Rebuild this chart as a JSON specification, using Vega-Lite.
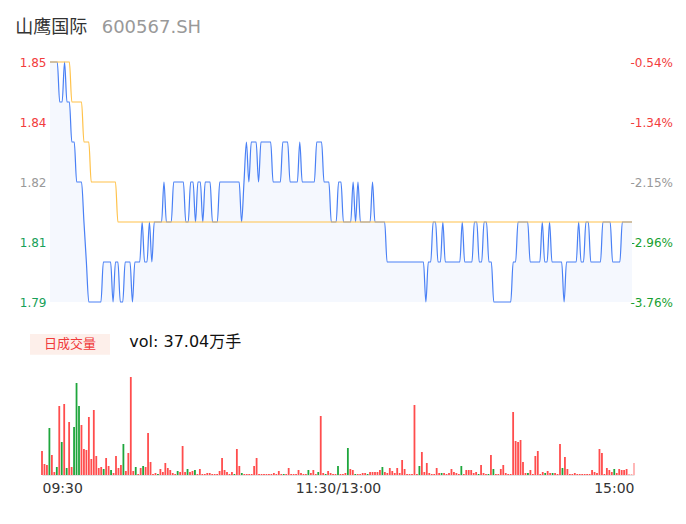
{
"$schema": "https://vega.github.io/schema/vega-lite/v6.json",
"padding": {"left": 15, "top": 19, "right": 0, "bottom": 0},
"background": "white",
"config": {"font": "DejaVu Sans, Noto Sans CJK SC", "view": {"stroke": null}, "axis": {"grid": false, "domain": false, "ticks": false}},
"bounds": "flush",
"spacing": 28,
"datasets": {"m": [
{"i":0,"p":1.85,"a":1.85,"v":6000,"d":"u"},
{"i":1,"p":1.85,"a":1.85,"v":2750,"d":"u"},
{"i":2,"p":1.85,"a":1.85,"v":2500,"d":"u"},
{"i":3,"p":1.85,"a":1.85,"v":11750,"d":"d"},
{"i":4,"p":1.84,"a":1.85,"v":5000,"d":"u"},
{"i":5,"p":1.84,"a":1.85,"v":750,"d":"u"},
{"i":6,"p":1.85,"a":1.85,"v":2000,"d":"d"},
{"i":7,"p":1.84,"a":1.85,"v":17250,"d":"u"},
{"i":8,"p":1.84,"a":1.85,"v":8250,"d":"d"},
{"i":9,"p":1.83,"a":1.84,"v":17750,"d":"u"},
{"i":10,"p":1.83,"a":1.84,"v":1750,"d":"d"},
{"i":11,"p":1.82,"a":1.84,"v":13250,"d":"u"},
{"i":12,"p":1.82,"a":1.84,"v":2000,"d":"u"},
{"i":13,"p":1.82,"a":1.84,"v":12000,"d":"d"},
{"i":14,"p":1.81,"a":1.83,"v":23000,"d":"d"},
{"i":15,"p":1.80,"a":1.83,"v":17250,"d":"d"},
{"i":16,"p":1.79,"a":1.83,"v":12500,"d":"u"},
{"i":17,"p":1.79,"a":1.82,"v":6500,"d":"u"},
{"i":18,"p":1.79,"a":1.82,"v":6250,"d":"u"},
{"i":19,"p":1.79,"a":1.82,"v":14500,"d":"u"},
{"i":20,"p":1.79,"a":1.82,"v":4000,"d":"u"},
{"i":21,"p":1.79,"a":1.82,"v":16250,"d":"u"},
{"i":22,"p":1.80,"a":1.82,"v":4750,"d":"u"},
{"i":23,"p":1.80,"a":1.82,"v":1750,"d":"u"},
{"i":24,"p":1.80,"a":1.82,"v":2000,"d":"u"},
{"i":25,"p":1.80,"a":1.82,"v":1500,"d":"d"},
{"i":26,"p":1.79,"a":1.82,"v":4250,"d":"u"},
{"i":27,"p":1.80,"a":1.82,"v":2250,"d":"u"},
{"i":28,"p":1.80,"a":1.81,"v":1250,"d":"d"},
{"i":29,"p":1.79,"a":1.81,"v":500,"d":"u"},
{"i":30,"p":1.79,"a":1.81,"v":4750,"d":"u"},
{"i":31,"p":1.80,"a":1.81,"v":1750,"d":"u"},
{"i":32,"p":1.80,"a":1.81,"v":2500,"d":"u"},
{"i":33,"p":1.80,"a":1.81,"v":7750,"d":"d"},
{"i":34,"p":1.79,"a":1.81,"v":1000,"d":"u"},
{"i":35,"p":1.80,"a":1.81,"v":5500,"d":"u"},
{"i":36,"p":1.80,"a":1.81,"v":24500,"d":"u"},
{"i":37,"p":1.80,"a":1.81,"v":1000,"d":"u"},
{"i":38,"p":1.81,"a":1.81,"v":2000,"d":"d"},
{"i":39,"p":1.80,"a":1.81,"v":250,"d":"u"},
{"i":40,"p":1.80,"a":1.81,"v":1750,"d":"u"},
{"i":41,"p":1.81,"a":1.81,"v":2250,"d":"d"},
{"i":42,"p":1.80,"a":1.81,"v":2000,"d":"u"},
{"i":43,"p":1.81,"a":1.81,"v":10500,"d":"u"},
{"i":44,"p":1.81,"a":1.81,"v":3250,"d":"u"},
{"i":45,"p":1.81,"a":1.81,"v":250,"d":"u"},
{"i":46,"p":1.81,"a":1.81,"v":500,"d":"u"},
{"i":47,"p":1.82,"a":1.81,"v":250,"d":"d"},
{"i":48,"p":1.81,"a":1.81,"v":1500,"d":"u"},
{"i":49,"p":1.81,"a":1.81,"v":750,"d":"u"},
{"i":50,"p":1.81,"a":1.81,"v":3000,"d":"u"},
{"i":51,"p":1.82,"a":1.81,"v":1750,"d":"u"},
{"i":52,"p":1.82,"a":1.81,"v":1250,"d":"u"},
{"i":53,"p":1.82,"a":1.81,"v":500,"d":"u"},
{"i":54,"p":1.82,"a":1.81,"v":250,"d":"u"},
{"i":55,"p":1.82,"a":1.81,"v":1000,"d":"d"},
{"i":56,"p":1.81,"a":1.81,"v":750,"d":"u"},
{"i":57,"p":1.81,"a":1.81,"v":7250,"d":"u"},
{"i":58,"p":1.82,"a":1.81,"v":750,"d":"u"},
{"i":59,"p":1.82,"a":1.81,"v":1500,"d":"d"},
{"i":60,"p":1.81,"a":1.81,"v":750,"d":"u"},
{"i":61,"p":1.82,"a":1.81,"v":1000,"d":"u"},
{"i":62,"p":1.82,"a":1.81,"v":1250,"d":"d"},
{"i":63,"p":1.81,"a":1.81,"v":250,"d":"u"},
{"i":64,"p":1.82,"a":1.81,"v":1500,"d":"u"},
{"i":65,"p":1.82,"a":1.81,"v":250,"d":"u"},
{"i":66,"p":1.82,"a":1.81,"v":250,"d":"u"},
{"i":67,"p":1.81,"a":1.81,"v":500,"d":"u"},
{"i":68,"p":1.81,"a":1.81,"v":500,"d":"u"},
{"i":69,"p":1.81,"a":1.81,"v":250,"d":"u"},
{"i":70,"p":1.82,"a":1.81,"v":250,"d":"u"},
{"i":71,"p":1.82,"a":1.81,"v":250,"d":"u"},
{"i":72,"p":1.82,"a":1.81,"v":1000,"d":"u"},
{"i":73,"p":1.82,"a":1.81,"v":4250,"d":"u"},
{"i":74,"p":1.82,"a":1.81,"v":1250,"d":"u"},
{"i":75,"p":1.82,"a":1.81,"v":750,"d":"u"},
{"i":76,"p":1.82,"a":1.81,"v":250,"d":"u"},
{"i":77,"p":1.82,"a":1.81,"v":750,"d":"u"},
{"i":78,"p":1.82,"a":1.81,"v":250,"d":"d"},
{"i":79,"p":1.81,"a":1.81,"v":6500,"d":"u"},
{"i":80,"p":1.82,"a":1.81,"v":2250,"d":"u"},
{"i":81,"p":1.83,"a":1.81,"v":500,"d":"d"},
{"i":82,"p":1.82,"a":1.81,"v":250,"d":"u"},
{"i":83,"p":1.83,"a":1.81,"v":250,"d":"u"},
{"i":84,"p":1.83,"a":1.81,"v":250,"d":"u"},
{"i":85,"p":1.83,"a":1.81,"v":250,"d":"u"},
{"i":86,"p":1.82,"a":1.81,"v":2250,"d":"u"},
{"i":87,"p":1.83,"a":1.81,"v":4250,"d":"u"},
{"i":88,"p":1.83,"a":1.81,"v":250,"d":"u"},
{"i":89,"p":1.83,"a":1.81,"v":250,"d":"u"},
{"i":90,"p":1.83,"a":1.81,"v":250,"d":"u"},
{"i":91,"p":1.83,"a":1.81,"v":250,"d":"u"},
{"i":92,"p":1.82,"a":1.81,"v":250,"d":"u"},
{"i":93,"p":1.82,"a":1.81,"v":250,"d":"u"},
{"i":94,"p":1.82,"a":1.81,"v":500,"d":"u"},
{"i":95,"p":1.82,"a":1.81,"v":250,"d":"u"},
{"i":96,"p":1.83,"a":1.81,"v":1000,"d":"u"},
{"i":97,"p":1.83,"a":1.81,"v":250,"d":"u"},
{"i":98,"p":1.83,"a":1.81,"v":250,"d":"d"},
{"i":99,"p":1.82,"a":1.81,"v":250,"d":"u"},
{"i":100,"p":1.82,"a":1.81,"v":1750,"d":"u"},
{"i":101,"p":1.82,"a":1.81,"v":250,"d":"u"},
{"i":102,"p":1.82,"a":1.81,"v":250,"d":"u"},
{"i":103,"p":1.83,"a":1.81,"v":250,"d":"u"},
{"i":104,"p":1.82,"a":1.81,"v":1250,"d":"u"},
{"i":105,"p":1.82,"a":1.81,"v":500,"d":"u"},
{"i":106,"p":1.82,"a":1.81,"v":250,"d":"u"},
{"i":107,"p":1.82,"a":1.81,"v":250,"d":"u"},
{"i":108,"p":1.82,"a":1.81,"v":1250,"d":"d"},
{"i":109,"p":1.82,"a":1.81,"v":500,"d":"u"},
{"i":110,"p":1.83,"a":1.81,"v":1250,"d":"u"},
{"i":111,"p":1.83,"a":1.81,"v":250,"d":"u"},
{"i":112,"p":1.83,"a":1.81,"v":750,"d":"d"},
{"i":113,"p":1.82,"a":1.81,"v":14750,"d":"u"},
{"i":114,"p":1.82,"a":1.81,"v":500,"d":"u"},
{"i":115,"p":1.82,"a":1.81,"v":250,"d":"d"},
{"i":116,"p":1.81,"a":1.81,"v":1000,"d":"u"},
{"i":117,"p":1.81,"a":1.81,"v":500,"d":"u"},
{"i":118,"p":1.81,"a":1.81,"v":250,"d":"u"},
{"i":119,"p":1.82,"a":1.81,"v":250,"d":"u"},
{"i":120,"p":1.82,"a":1.81,"v":2250,"d":"d"},
{"i":121,"p":1.81,"a":1.81,"v":250,"d":"u"},
{"i":122,"p":1.81,"a":1.81,"v":250,"d":"u"},
{"i":123,"p":1.81,"a":1.81,"v":500,"d":"u"},
{"i":124,"p":1.81,"a":1.81,"v":6750,"d":"d"},
{"i":125,"p":1.82,"a":1.81,"v":1500,"d":"u"},
{"i":126,"p":1.81,"a":1.81,"v":1250,"d":"u"},
{"i":127,"p":1.82,"a":1.81,"v":250,"d":"d"},
{"i":128,"p":1.81,"a":1.81,"v":250,"d":"u"},
{"i":129,"p":1.81,"a":1.81,"v":250,"d":"u"},
{"i":130,"p":1.81,"a":1.81,"v":500,"d":"u"},
{"i":131,"p":1.81,"a":1.81,"v":500,"d":"u"},
{"i":132,"p":1.81,"a":1.81,"v":250,"d":"d"},
{"i":133,"p":1.82,"a":1.81,"v":750,"d":"u"},
{"i":134,"p":1.81,"a":1.81,"v":750,"d":"u"},
{"i":135,"p":1.81,"a":1.81,"v":750,"d":"u"},
{"i":136,"p":1.81,"a":1.81,"v":750,"d":"u"},
{"i":137,"p":1.81,"a":1.81,"v":1250,"d":"u"},
{"i":138,"p":1.81,"a":1.81,"v":2000,"d":"d"},
{"i":139,"p":1.80,"a":1.81,"v":750,"d":"u"},
{"i":140,"p":1.80,"a":1.81,"v":500,"d":"u"},
{"i":141,"p":1.80,"a":1.81,"v":1750,"d":"u"},
{"i":142,"p":1.80,"a":1.81,"v":1000,"d":"u"},
{"i":143,"p":1.80,"a":1.81,"v":500,"d":"u"},
{"i":144,"p":1.80,"a":1.81,"v":1750,"d":"u"},
{"i":145,"p":1.80,"a":1.81,"v":500,"d":"u"},
{"i":146,"p":1.80,"a":1.81,"v":3750,"d":"u"},
{"i":147,"p":1.80,"a":1.81,"v":1500,"d":"u"},
{"i":148,"p":1.80,"a":1.81,"v":250,"d":"u"},
{"i":149,"p":1.80,"a":1.81,"v":250,"d":"u"},
{"i":150,"p":1.80,"a":1.81,"v":250,"d":"u"},
{"i":151,"p":1.80,"a":1.81,"v":17500,"d":"u"},
{"i":152,"p":1.80,"a":1.81,"v":250,"d":"u"},
{"i":153,"p":1.80,"a":1.81,"v":2250,"d":"d"},
{"i":154,"p":1.80,"a":1.81,"v":5750,"d":"u"},
{"i":155,"p":1.79,"a":1.81,"v":750,"d":"u"},
{"i":156,"p":1.80,"a":1.81,"v":3000,"d":"u"},
{"i":157,"p":1.80,"a":1.81,"v":500,"d":"u"},
{"i":158,"p":1.81,"a":1.81,"v":250,"d":"u"},
{"i":159,"p":1.81,"a":1.81,"v":250,"d":"u"},
{"i":160,"p":1.80,"a":1.81,"v":1750,"d":"u"},
{"i":161,"p":1.80,"a":1.81,"v":500,"d":"u"},
{"i":162,"p":1.81,"a":1.81,"v":500,"d":"d"},
{"i":163,"p":1.80,"a":1.81,"v":500,"d":"u"},
{"i":164,"p":1.80,"a":1.81,"v":250,"d":"u"},
{"i":165,"p":1.80,"a":1.81,"v":500,"d":"u"},
{"i":166,"p":1.80,"a":1.81,"v":1500,"d":"u"},
{"i":167,"p":1.80,"a":1.81,"v":750,"d":"u"},
{"i":168,"p":1.80,"a":1.81,"v":500,"d":"u"},
{"i":169,"p":1.80,"a":1.81,"v":250,"d":"u"},
{"i":170,"p":1.81,"a":1.81,"v":2250,"d":"d"},
{"i":171,"p":1.80,"a":1.81,"v":250,"d":"u"},
{"i":172,"p":1.80,"a":1.81,"v":1250,"d":"u"},
{"i":173,"p":1.80,"a":1.81,"v":1250,"d":"u"},
{"i":174,"p":1.80,"a":1.81,"v":1250,"d":"u"},
{"i":175,"p":1.81,"a":1.81,"v":500,"d":"u"},
{"i":176,"p":1.81,"a":1.81,"v":750,"d":"u"},
{"i":177,"p":1.80,"a":1.81,"v":250,"d":"d"},
{"i":178,"p":1.80,"a":1.81,"v":2500,"d":"u"},
{"i":179,"p":1.81,"a":1.81,"v":500,"d":"u"},
{"i":180,"p":1.81,"a":1.81,"v":250,"d":"u"},
{"i":181,"p":1.80,"a":1.81,"v":250,"d":"d"},
{"i":182,"p":1.80,"a":1.81,"v":5000,"d":"u"},
{"i":183,"p":1.79,"a":1.81,"v":1500,"d":"d"},
{"i":184,"p":1.79,"a":1.81,"v":250,"d":"u"},
{"i":185,"p":1.79,"a":1.81,"v":250,"d":"u"},
{"i":186,"p":1.79,"a":1.81,"v":1500,"d":"u"},
{"i":187,"p":1.79,"a":1.81,"v":2500,"d":"u"},
{"i":188,"p":1.79,"a":1.81,"v":500,"d":"u"},
{"i":189,"p":1.79,"a":1.81,"v":250,"d":"u"},
{"i":190,"p":1.79,"a":1.81,"v":250,"d":"u"},
{"i":191,"p":1.80,"a":1.81,"v":15750,"d":"u"},
{"i":192,"p":1.80,"a":1.81,"v":8500,"d":"u"},
{"i":193,"p":1.81,"a":1.81,"v":8250,"d":"u"},
{"i":194,"p":1.81,"a":1.81,"v":8750,"d":"u"},
{"i":195,"p":1.81,"a":1.81,"v":3250,"d":"u"},
{"i":196,"p":1.81,"a":1.81,"v":500,"d":"u"},
{"i":197,"p":1.81,"a":1.81,"v":500,"d":"d"},
{"i":198,"p":1.80,"a":1.81,"v":1250,"d":"u"},
{"i":199,"p":1.80,"a":1.81,"v":250,"d":"u"},
{"i":200,"p":1.80,"a":1.81,"v":4750,"d":"u"},
{"i":201,"p":1.80,"a":1.81,"v":6000,"d":"u"},
{"i":202,"p":1.80,"a":1.81,"v":250,"d":"u"},
{"i":203,"p":1.81,"a":1.81,"v":750,"d":"u"},
{"i":204,"p":1.80,"a":1.81,"v":500,"d":"d"},
{"i":205,"p":1.80,"a":1.81,"v":1000,"d":"u"},
{"i":206,"p":1.81,"a":1.81,"v":500,"d":"u"},
{"i":207,"p":1.80,"a":1.81,"v":500,"d":"d"},
{"i":208,"p":1.80,"a":1.81,"v":500,"d":"u"},
{"i":209,"p":1.80,"a":1.81,"v":250,"d":"u"},
{"i":210,"p":1.80,"a":1.81,"v":7750,"d":"u"},
{"i":211,"p":1.80,"a":1.81,"v":1750,"d":"d"},
{"i":212,"p":1.79,"a":1.81,"v":4500,"d":"u"},
{"i":213,"p":1.80,"a":1.81,"v":1500,"d":"u"},
{"i":214,"p":1.80,"a":1.81,"v":250,"d":"u"},
{"i":215,"p":1.80,"a":1.81,"v":250,"d":"u"},
{"i":216,"p":1.80,"a":1.81,"v":500,"d":"u"},
{"i":217,"p":1.80,"a":1.81,"v":250,"d":"u"},
{"i":218,"p":1.81,"a":1.81,"v":250,"d":"u"},
{"i":219,"p":1.80,"a":1.81,"v":250,"d":"u"},
{"i":220,"p":1.80,"a":1.81,"v":250,"d":"u"},
{"i":221,"p":1.81,"a":1.81,"v":250,"d":"u"},
{"i":222,"p":1.81,"a":1.81,"v":250,"d":"u"},
{"i":223,"p":1.80,"a":1.81,"v":1250,"d":"u"},
{"i":224,"p":1.80,"a":1.81,"v":750,"d":"u"},
{"i":225,"p":1.80,"a":1.81,"v":500,"d":"u"},
{"i":226,"p":1.80,"a":1.81,"v":6500,"d":"u"},
{"i":227,"p":1.80,"a":1.81,"v":5500,"d":"u"},
{"i":228,"p":1.81,"a":1.81,"v":250,"d":"u"},
{"i":229,"p":1.81,"a":1.81,"v":1750,"d":"u"},
{"i":230,"p":1.81,"a":1.81,"v":1250,"d":"u"},
{"i":231,"p":1.81,"a":1.81,"v":750,"d":"u"},
{"i":232,"p":1.80,"a":1.81,"v":1500,"d":"d"},
{"i":233,"p":1.80,"a":1.81,"v":500,"d":"u"},
{"i":234,"p":1.80,"a":1.81,"v":1500,"d":"u"},
{"i":235,"p":1.80,"a":1.81,"v":1250,"d":"u"},
{"i":236,"p":1.81,"a":1.81,"v":1250,"d":"u"},
{"i":237,"p":1.81,"a":1.81,"v":1500,"d":"u"},
{"i":238,"p":1.81,"a":1.81,"v":125,"d":"u"},
{"i":239,"p":1.81,"a":1.81,"v":125,"d":"u"},
{"i":240,"p":1.81,"a":1.81,"v":3000,"d":"f"}
]},
"vconcat": [
{
"width": 592, "height": 240,
"resolve": {"axis": {"y": "independent"}},
"layer": [
{"data": {"name": "m"},
 "mark": {"type": "area", "interpolate": "monotone", "color": "#f5f8fe"},
 "encoding": {
  "x": {"field": "i", "type": "quantitative", "scale": {"domain": [-3.3, 240.825], "nice": false, "zero": false, "padding": 0}, "axis": null},
  "y": {"field": "p", "type": "quantitative", "scale": {"domain": [1.79, 1.85], "nice": false, "zero": false},
    "axis": {"orient": "left", "values": [1.79, 1.805, 1.82, 1.835, 1.85], "labelExpr": "format(datum.value+0.00001,'.2f')", "labelFontSize": 12, "labelPadding": -4, "title": null,
      "labelColor": {"condition": [{"test": "datum.value > 1.83", "value": "#f23c3c"}, {"test": "datum.value < 1.81", "value": "#18a058"}], "value": "#999999"}}},
  "y2": {"datum": 1.79}
 }},
{"data": {"name": "m"},
 "mark": {"type": "line", "interpolate": "monotone", "color": "#4a80f5", "strokeWidth": 1.2},
 "encoding": {
  "x": {"field": "i", "type": "quantitative", "scale": {"domain": [-3.3, 240.825], "nice": false, "zero": false, "padding": 0}, "axis": null},
  "y": {"field": "p", "type": "quantitative", "scale": {"domain": [1.79, 1.85], "nice": false, "zero": false},
    "axis": {"orient": "right", "values": [1.79, 1.805, 1.82, 1.835, 1.85], "labelExpr": "replace(format((datum.value/1.86-1)*100,'.2f'),'\u2212','-')+'%'", "labelFontSize": 12, "labelPadding": -4, "title": null,
      "labelColor": {"condition": [{"test": "datum.value > 1.83", "value": "#f23c3c"}, {"test": "datum.value < 1.81", "value": "#18a030"}], "value": "#999999"}}}
 }},
{"data": {"name": "m"},
 "mark": {"type": "line", "interpolate": "monotone", "color": "#ffc24a", "strokeWidth": 1.2},
 "encoding": {
  "x": {"field": "i", "type": "quantitative", "scale": {"domain": [-3.3, 240.825], "nice": false, "zero": false, "padding": 0}, "axis": null},
  "y": {"field": "a", "type": "quantitative", "scale": {"domain": [1.79, 1.85], "nice": false, "zero": false}, "axis": null}
 }},
{"data": {"values": [{"label": "山鹰国际"}]},
 "mark": {"type": "text", "align": "left", "baseline": "middle", "fontSize": 18, "color": "#333333"},
 "encoding": {
  "x": {"datum": -14.31, "type": "quantitative", "scale": {"domain": [-3.3, 240.825], "nice": false, "zero": false, "padding": 0}, "axis": null},
  "y": {"datum": 1.8585, "type": "quantitative", "scale": {"domain": [1.79, 1.85], "nice": false, "zero": false}, "axis": null},
  "text": {"field": "label"}
 }},
{"data": {"values": [{"label": "600567.SH"}]},
 "mark": {"type": "text", "align": "left", "baseline": "middle", "fontSize": 18, "color": "#999999"},
 "encoding": {
  "x": {"datum": 21.32, "type": "quantitative", "scale": {"domain": [-3.3, 240.825], "nice": false, "zero": false, "padding": 0}, "axis": null},
  "y": {"datum": 1.8585, "type": "quantitative", "scale": {"domain": [1.79, 1.85], "nice": false, "zero": false}, "axis": null},
  "text": {"field": "label"}
 }}
]
},
{
"width": 592, "height": 145,
"layer": [
{"data": {"name": "m"},
 "mark": {"type": "bar", "size": 1.8},
 "encoding": {
  "x": {"field": "i", "type": "quantitative", "scale": {"domain": [0, 240], "nice": false, "zero": false, "padding": 0},
    "axis": {"values": [0, 120, 240], "labelExpr": "datum.value == 0 ? '09:30' : datum.value == 120 ? '11:30/13:00' : '15:00'", "labelFlush": true, "labelFontSize": 14, "labelColor": "#333333", "labelPadding": 6, "domain": true, "domainColor": "#e3e3e3", "ticks": false, "grid": false, "title": null}},
  "y": {"field": "v", "type": "quantitative", "scale": {"domain": [0, 36250], "nice": false}, "axis": null},
  "color": {"field": "d", "type": "nominal", "scale": {"domain": ["u", "d", "f"], "range": ["#ff4d4d", "#1ea63c", "#ffb0b0"]}, "legend": null}
 }},
{"data": {"values": [{"label": "日成交量"}]},
 "mark": {"type": "rect", "color": "#fdefea"},
 "encoding": {
  "x": {"datum": -4.86, "type": "quantitative", "scale": {"domain": [0, 240], "nice": false, "zero": false, "padding": 0}},
  "x2": {"datum": 27.56},
  "y": {"datum": 35250, "type": "quantitative", "scale": {"domain": [0, 36250], "nice": false}, "axis": null},
  "y2": {"datum": 30075}
 }},
{"data": {"values": [{"label": "日成交量"}]},
 "mark": {"type": "text", "align": "center", "baseline": "middle", "fontSize": 13, "color": "#f03a3a"},
 "encoding": {
  "x": {"datum": 11.35, "type": "quantitative", "scale": {"domain": [0, 240], "nice": false, "zero": false, "padding": 0}},
  "y": {"datum": 32750, "type": "quantitative", "scale": {"domain": [0, 36250], "nice": false}, "axis": null},
  "text": {"field": "label"}
 }},
{"data": {"values": [{"label": "vol: 37.04万手"}]},
 "mark": {"type": "text", "align": "left", "baseline": "middle", "fontSize": 16, "color": "#111111"},
 "encoding": {
  "x": {"datum": 35.4, "type": "quantitative", "scale": {"domain": [0, 240], "nice": false, "zero": false, "padding": 0}},
  "y": {"datum": 33175, "type": "quantitative", "scale": {"domain": [0, 36250], "nice": false}, "axis": null},
  "text": {"field": "label"}
 }}
]
}
]
}
